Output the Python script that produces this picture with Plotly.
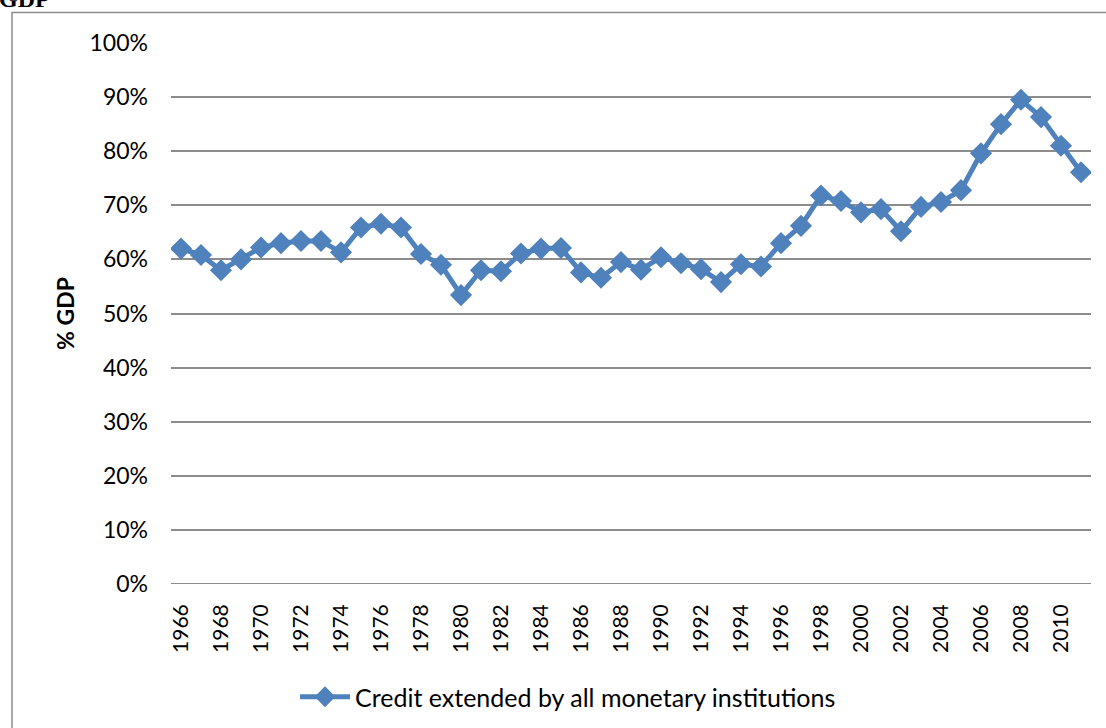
import plotly.graph_objects as go

years = list(range(1966, 2012))
credit_pct = [62.0, 60.8, 58.0, 60.0, 62.2, 63.0, 63.4, 63.4, 61.3, 65.9,
              66.6, 65.9, 61.0, 59.0, 53.4, 58.0, 57.8, 61.1, 62.0, 62.1,
              57.6, 56.6, 59.5, 58.1, 60.4, 59.3, 58.2, 55.8, 59.1, 58.7,
              63.0, 66.2, 71.8, 70.8, 68.7, 69.3, 65.2, 69.7, 70.6, 72.8,
              79.6, 85.0, 89.5, 86.3, 81.0, 76.1]
series_name = "Credit extended by all monetary institutions"
tick_years = list(range(1966, 2012, 2))
y_ticks = list(range(0, 101, 10))

L, R, T, B = 171, 15, 43, 144
W, H = 1106, 728
pw, ph = W - L - R, H - T - B

def px(x):
    return (x - L) / pw

def py(y):
    return (H - B - y) / ph

fig = go.Figure()
fig.add_trace(go.Scatter(
    x=years, y=credit_pct, name=series_name, mode="lines+markers",
    line=dict(color="#4F81BD", width=5),
    marker=dict(symbol="diamond", size=17, color="#4F81BD"),
))

fig.update_layout(
    width=W, height=H,
    margin=dict(l=L, r=R, t=T, b=B, pad=0, autoexpand=False),
    paper_bgcolor="white", plot_bgcolor="white",
    font=dict(family="Lato, Liberation Sans, sans-serif", color="black"),
    showlegend=True,
    legend=dict(orientation="h", x=px(568), y=py(697), xanchor="center", yanchor="middle",
                font=dict(size=25), itemwidth=50),
    xaxis=dict(range=[1965.5, 2011.5], tickmode="array", tickvals=tick_years,
               ticktext=[str(v) for v in tick_years], tickangle=-90,
               tickfont=dict(size=21), showgrid=False, zeroline=False,
               showline=False, ticks="", ticklabelstandoff=15, automargin=False),
    yaxis=dict(range=[0, 100], tickmode="array", tickvals=y_ticks,
               ticktext=[f"{v}%" for v in y_ticks], tickfont=dict(size=23),
               showgrid=True, gridcolor="#8C8C8C", gridwidth=1.5,
               zeroline=False, showline=False, ticks="", ticklabelstandoff=22,
               automargin=False),
    shapes=[
        dict(type="rect", xref="paper", yref="paper",
             x0=px(12), x1=px(1110), y0=py(740), y1=py(12.5),
             line=dict(color="#8C8C8C", width=1.5), fillcolor="rgba(0,0,0,0)", layer="below"),
        dict(type="line", xref="paper", yref="y", x0=0, x1=1, y0=0, y1=0,
             line=dict(color="#8C8C8C", width=2)),
    ],
    annotations=[
        dict(text="<b>% GDP</b>", xref="paper", yref="paper", x=px(65), y=py(314),
             textangle=-90, showarrow=False, font=dict(size=23),
             xanchor="center", yanchor="middle"),
        dict(text="<b>GDP</b>", xref="paper", yref="paper", x=px(-3), y=py(14),
             showarrow=False, font=dict(size=24, family="Liberation Serif, serif"),
             xanchor="left", yanchor="bottom"),
    ],
)

fig.write_html("out.html", config={"displayModeBar": False},
               post_script="document.body.style.margin='0';document.body.style.overflow='hidden';")
